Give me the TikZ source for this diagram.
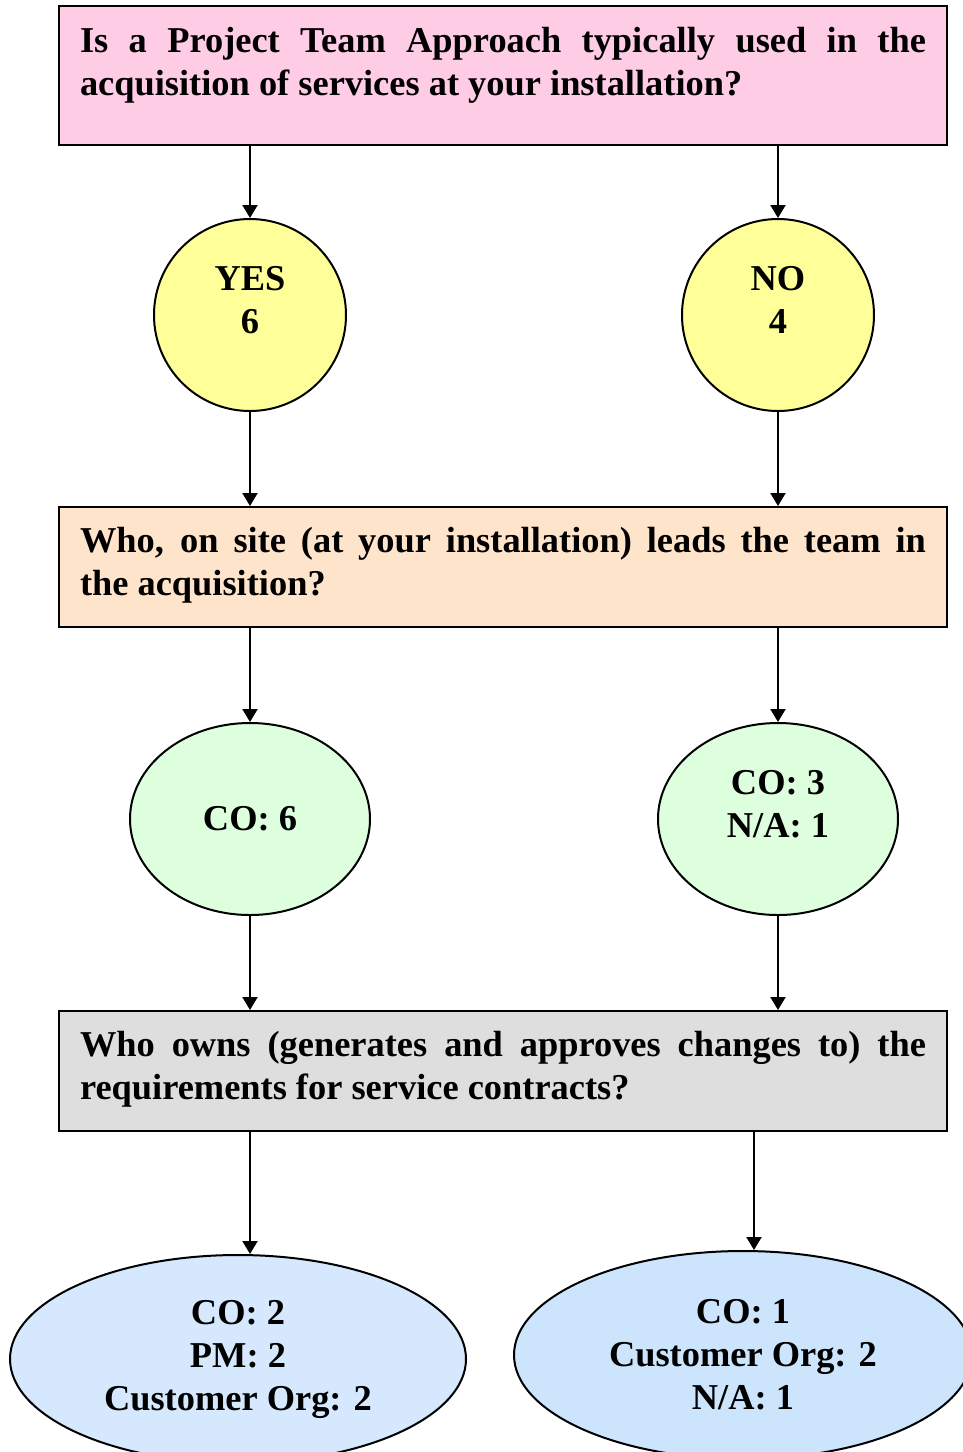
\documentclass[tikz,border=0pt]{standalone}
\usepackage{fontspec}
\setmainfont{Liberation Serif}
\usetikzlibrary{shapes.geometric,arrows.meta}
\definecolor{qpink}{RGB}{255,204,230}
\definecolor{qpeach}{RGB}{255,228,204}
\definecolor{qgray}{RGB}{222,222,222}
\definecolor{ayellow}{RGB}{255,255,153}
\definecolor{agreen}{RGB}{221,255,221}
\definecolor{ablueA}{RGB}{213,232,253}
\definecolor{ablueB}{RGB}{204,228,252}
\begin{document}
\begin{tikzpicture}[x=0.5pt,y=-0.5pt,line width=1pt,
  every node/.style={font=\fontsize{18.2}{21.5}\selectfont\bfseries},
  qbox/.style={draw,minimum width=444pt,text width=423pt,align=justify,inner sep=0pt},
  ans/.style={draw,ellipse,align=center,inner sep=0pt},
  >={Triangle[length=6.5pt,width=7.5pt]}]
\useasboundingbox (0,0) rectangle (963,1452);
\clip (0,0) rectangle (963,1452);

\node[qbox,fill=qpink,minimum height=69.5pt] (q1) at (503,75.5)
  {Is a Project Team Approach typically used in the\linebreak acquisition of services at your installation?\rule[-14.5pt]{0pt}{0pt}};
\node[qbox,fill=qpeach,minimum height=60pt] (q2) at (503,567)
  {Who, on site (at your installation) leads the team in\linebreak the acquisition?\rule[-5.5pt]{0pt}{0pt}};
\node[qbox,fill=qgray,minimum height=60pt] (q3) at (503,1071)
  {Who owns (generates and approves changes to) the\linebreak requirements for service contracts?\rule[-6pt]{0pt}{0pt}};

\foreach \n/\t/\x in {yes/{YES\\6}/250,no/{NO\\4}/778}
\node[ans,circle,fill=ayellow,minimum size=96pt] (\n) at (\x,315) {\t\\[-6.5pt]};

\foreach \n/\t/\x in {leadyes/{CO: 6}/250,leadno/{CO: 3\\N/A: 1\\[-6.5pt]}/778}
\node[ans,fill=agreen,minimum width=120pt,minimum height=96pt] (\n) at (\x,819) {\t};

\node[ans,fill=ablueA,minimum width=228pt,minimum height=104pt] (ownyes) at (238,1359)
  {CO: 2\\PM: 2\\Customer Org: 2};
\node[ans,fill=ablueB,minimum width=229pt,minimum height=104pt] (ownno) at (743,1355)
  {CO: 1\\Customer Org: 2\\N/A: 1};

\foreach \c in {yes,no}{
  \draw[->] (\c |- q1.south) -- (\c);
  \draw[->] (\c) -- (\c |- q2.north);
  \draw[->] (lead\c |- q2.south) -- (lead\c);
  \draw[->] (lead\c) -- (lead\c |- q3.north);
}
\draw[->] (leadyes |- q3.south) -- (leadyes |- ownyes.north);
\draw[->] ([xshift=5.5pt]ownno.north |- q3.south) -- ([xshift=5.5pt]ownno.north);

\end{tikzpicture}
\end{document}
